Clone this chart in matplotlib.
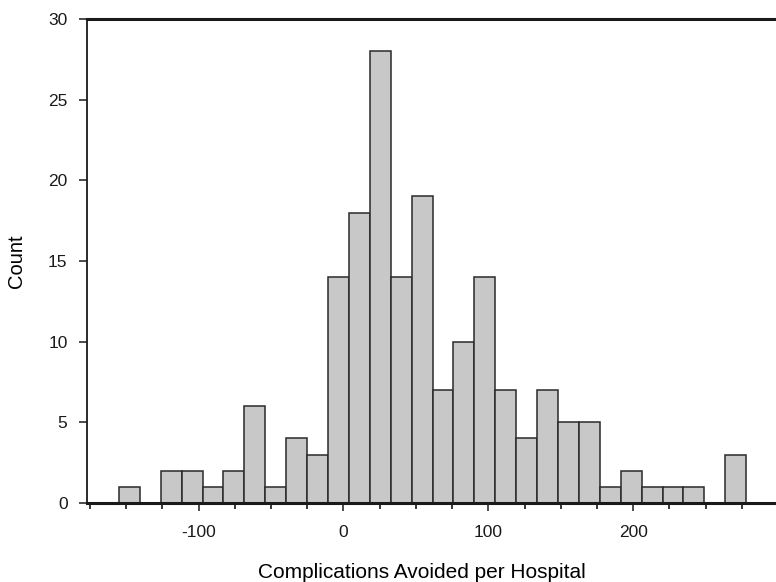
import numpy as np
import matplotlib.pyplot as plt
from matplotlib.ticker import MultipleLocator

plt.rcParams['font.family'] = ['Liberation Sans', 'DejaVu Sans']
plt.rcParams['axes.unicode_minus'] = False

# histogram of complications avoided per hospital (30 bins)
bin_start = -155
bin_end = 278
n_bins = 30
counts = [1, 0, 2, 2, 1, 2, 6, 1, 4, 3,
          14, 18, 28, 14, 19, 7, 10, 14, 7, 4,
          7, 5, 5, 1, 2, 1, 1, 1, 0, 3]

edges = np.linspace(bin_start, bin_end, n_bins + 1)

fig = plt.figure(figsize=(7.76, 5.82), dpi=100)
ax = fig.add_axes([0.1121, 0.1357, 0.8879, 0.8317])

ax.hist(edges[:-1], bins=edges, weights=counts, color='#c8c8c8',
        edgecolor='#2a2a2a', linewidth=1.1)

ax.set_xlim(-177, 298.6)
ax.set_ylim(0, 30)
ax.xaxis.set_major_locator(MultipleLocator(100))
ax.xaxis.set_minor_locator(MultipleLocator(25))
ax.yaxis.set_major_locator(MultipleLocator(5))

ax.spines['right'].set_visible(False)
ax.spines['top'].set_linewidth(2.2)
ax.spines['bottom'].set_linewidth(2.2)
ax.spines['left'].set_linewidth(1.3)
for s in ax.spines.values():
    s.set_color('#1a1a1a')

ax.tick_params(axis='both', which='major', direction='out', length=6,
               width=1.1, labelsize=12.5, colors='#1a1a1a')
ax.tick_params(axis='x', which='major', pad=10)
ax.tick_params(axis='y', which='major', pad=8)
ax.tick_params(axis='x', which='minor', direction='out', length=4, width=1.1)

ax.set_xlabel('Complications Avoided per Hospital', fontsize=15)
ax.xaxis.set_label_coords(0.4855, -0.124)
ax.set_ylabel('Count', fontsize=14.5)
ax.yaxis.set_label_coords(-0.089, 0.5)

fig.savefig('out.png', dpi=100)
